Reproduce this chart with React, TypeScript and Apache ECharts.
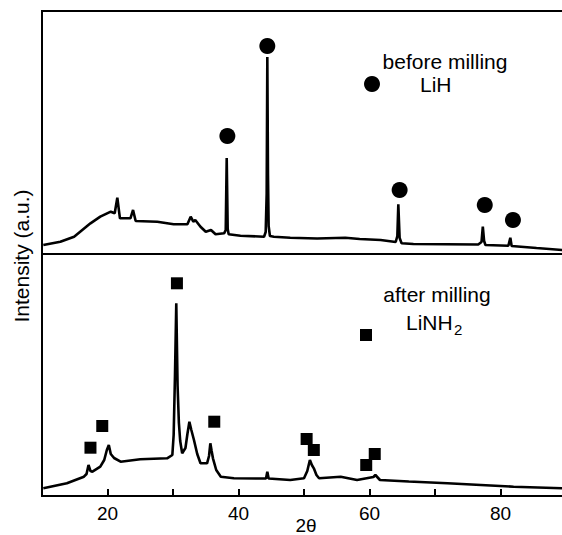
import React, { useEffect, useRef } from "react";
import * as echarts from "echarts";

// 2θ range and tick labels
const xMin = 10;
const xMax = 90;
const xTickStep = 10;
const xLabelValues = [20, 40, 60, 80];
const xAxisTitle = "2θ";

// Before milling (LiH) pattern: [2θ, intensity a.u.]
const beforeMilling: [number, number][] = [
  [10.2, 9], [12.8, 12.3], [14.9, 17.3], [17.4, 30.7], [18.9, 37.3], [20.5, 42.3],
  [21.1, 40.7], [21.5, 56.3], [21.9, 35.7], [23.5, 35.7], [23.9, 44], [24.3, 33],
  [27.6, 32.3], [30.1, 29.7], [32.2, 29.7], [32.7, 37.3], [33.1, 32.3], [33.4, 34],
  [34.2, 27.3], [35.0, 22.3], [35.8, 24], [36.5, 19.7], [37.8, 20.7], [38.05, 24],
  [38.2, 96], [38.35, 25], [38.5, 19.7], [40.3, 18.3], [43.9, 17.3], [44.15, 22],
  [44.3, 60], [44.4, 197], [44.5, 80], [44.6, 28], [44.8, 18], [45.4, 17.3],
  [47.9, 16.3], [52.0, 15.5], [56.3, 16.3], [58.5, 15], [61.7, 14], [64.0, 12],
  [64.25, 18], [64.4, 49.7], [64.6, 16], [64.9, 10.7], [66.7, 10], [71.5, 9.8],
  [76.6, 9.5], [77.1, 12], [77.3, 27.3], [77.5, 13], [77.7, 9], [81.2, 8.3],
  [81.5, 16.3], [81.7, 8], [85.5, 6], [89.5, 4],
];

// After milling (LiNH2) pattern: [2θ, intensity a.u.]
const afterMilling: [number, number][] = [
  [10.2, 7.7], [13.8, 12.7], [16.4, 19.3], [16.8, 22], [17.1, 31], [17.4, 25],
  [17.7, 24.3], [18.9, 29.3], [19.5, 36], [19.9, 46], [20.2, 51], [20.5, 42],
  [21.0, 38], [22.0, 34.3], [25.0, 36.7], [29.1, 37.7], [29.9, 41], [30.1, 61],
  [30.3, 120], [30.5, 192.7], [30.7, 110], [30.9, 73], [31.1, 55], [31.4, 42.7],
  [31.9, 48], [32.2, 62], [32.5, 74.3], [32.8, 66], [33.2, 56], [33.7, 42],
  [34.2, 32.7], [35.2, 32.7], [35.5, 40], [35.7, 52.7], [35.9, 45], [36.1, 37.7],
  [36.6, 26], [37.3, 19.3], [39.3, 17.7], [44.2, 17.5], [44.4, 24.3], [44.6, 17.5],
  [47.9, 16], [50.0, 17.7], [50.5, 25], [50.9, 36], [51.2, 31], [51.5, 27.7],
  [51.9, 21], [52.3, 17.7], [55.6, 19.3], [58.1, 16], [60.6, 19], [60.9, 21],
  [61.6, 16], [66.0, 14.5], [71.9, 12.7], [77.0, 11], [82.0, 9.3], [89.5, 7.7],
];

// Peak markers
const lihMarkers: [number, number][] = [
  [38.3, 118], [44.4, 208], [64.6, 64], [77.6, 49], [81.9, 34],
];
const linh2Markers: [number, number][] = [
  [17.4, 48.3], [19.2, 70], [30.6, 212.7], [36.3, 74.3],
  [50.4, 57], [51.5, 46], [59.5, 31], [60.8, 42],
];

const FONT = "'Liberation Sans', Arial, Helvetica, sans-serif";

export default function App() {
  const ref = useRef<HTMLDivElement>(null);

  useEffect(() => {
    if (!ref.current) return;
    const chart = echarts.init(ref.current, undefined, { renderer: "svg" });

    const gridCommon = {
      left: 42,
      width: 524,
      show: true,
      borderColor: "#000",
      borderWidth: 2,
      backgroundColor: "transparent",
      containLabel: false,
      outerBoundsMode: "none",
    };

    const hiddenY = {
      type: "value" as const,
      min: 0,
      axisLine: { show: false },
      axisTick: { show: false },
      axisLabel: { show: false },
      splitLine: { show: false },
    };

    chart.setOption({
      animation: false,
      backgroundColor: "#fff",
      grid: [
        { ...gridCommon, top: 11, height: 243 },
        { ...gridCommon, top: 254, height: 242 },
      ],
      xAxis: [
        {
          type: "value",
          gridIndex: 0,
          min: xMin,
          max: xMax,
          interval: xTickStep,
          axisLine: { show: false },
          axisTick: { show: false },
          axisLabel: { show: false },
          splitLine: { show: false },
        },
        {
          type: "value",
          gridIndex: 1,
          min: xMin,
          max: xMax,
          interval: xTickStep,
          axisLine: { show: true, lineStyle: { color: "#000", width: 2 } },
          axisTick: { show: true, inside: true, length: 7, lineStyle: { color: "#000", width: 2 } },
          axisLabel: {
            margin: 8,
            fontFamily: FONT,
            fontSize: 19,
            color: "#000",
            formatter: (v: number) => (xLabelValues.includes(v) ? String(v) : ""),
          },
          splitLine: { show: false },
        },
      ],
      yAxis: [
        { ...hiddenY, gridIndex: 0, max: 243 },
        { ...hiddenY, gridIndex: 1, max: 242 },
      ],
      series: [
        {
          type: "line",
          xAxisIndex: 0,
          yAxisIndex: 0,
          data: beforeMilling,
          showSymbol: false,
          symbol: "none",
          lineStyle: { color: "#000", width: 2.6 },
          silent: true,
        },
        {
          type: "line",
          xAxisIndex: 1,
          yAxisIndex: 1,
          data: afterMilling,
          showSymbol: false,
          symbol: "none",
          lineStyle: { color: "#000", width: 2.6 },
          silent: true,
        },
        {
          type: "scatter",
          xAxisIndex: 0,
          yAxisIndex: 0,
          data: lihMarkers,
          symbol: "circle",
          symbolSize: 16,
          itemStyle: { color: "#000", opacity: 1 },
          silent: true,
        },
        {
          type: "scatter",
          xAxisIndex: 1,
          yAxisIndex: 1,
          data: linh2Markers,
          symbol: "rect",
          symbolSize: 12,
          itemStyle: { color: "#000", opacity: 1 },
          silent: true,
        },
      ],
      graphic: [
        {
          type: "text",
          x: 306,
          y: 525,
          style: {
            text: xAxisTitle,
            fontFamily: FONT,
            fontSize: 19,
            fill: "#000",
            align: "center",
            verticalAlign: "middle",
          },
        },
        {
          type: "text",
          x: 21,
          y: 256,
          rotation: Math.PI / 2,
          style: {
            text: "Intensity (a.u.)",
            fontFamily: FONT,
            fontSize: 21,
            fill: "#000",
            align: "center",
            verticalAlign: "middle",
          },
        },
        {
          type: "text",
          x: 445,
          y: 61,
          style: {
            text: "before milling",
            fontFamily: FONT,
            fontSize: 21,
            fill: "#000",
            align: "center",
            verticalAlign: "middle",
          },
        },
        {
          type: "text",
          x: 420,
          y: 84,
          style: {
            text: "LiH",
            fontFamily: FONT,
            fontSize: 21,
            fill: "#000",
            align: "left",
            verticalAlign: "middle",
          },
        },
        { type: "circle", shape: { cx: 372, cy: 84, r: 8 }, style: { fill: "#000" } },
        {
          type: "text",
          x: 437,
          y: 294,
          style: {
            text: "after milling",
            fontFamily: FONT,
            fontSize: 21,
            fill: "#000",
            align: "center",
            verticalAlign: "middle",
          },
        },
        {
          type: "text",
          x: 406,
          y: 322,
          style: {
            text: "LiNH",
            fontFamily: FONT,
            fontSize: 21,
            fill: "#000",
            align: "left",
            verticalAlign: "middle",
          },
        },
        {
          type: "text",
          x: 454,
          y: 329,
          style: {
            text: "2",
            fontFamily: FONT,
            fontSize: 15,
            fill: "#000",
            align: "left",
            verticalAlign: "middle",
          },
        },
        { type: "rect", shape: { x: 360, y: 329, width: 12, height: 12 }, style: { fill: "#000" } },
      ],
    });

    return () => chart.dispose();
  }, []);

  return (
    <div
      ref={ref}
      style={{ position: "fixed", left: 0, top: 0, width: 562, height: 535, background: "#fff" }}
    />
  );
}
